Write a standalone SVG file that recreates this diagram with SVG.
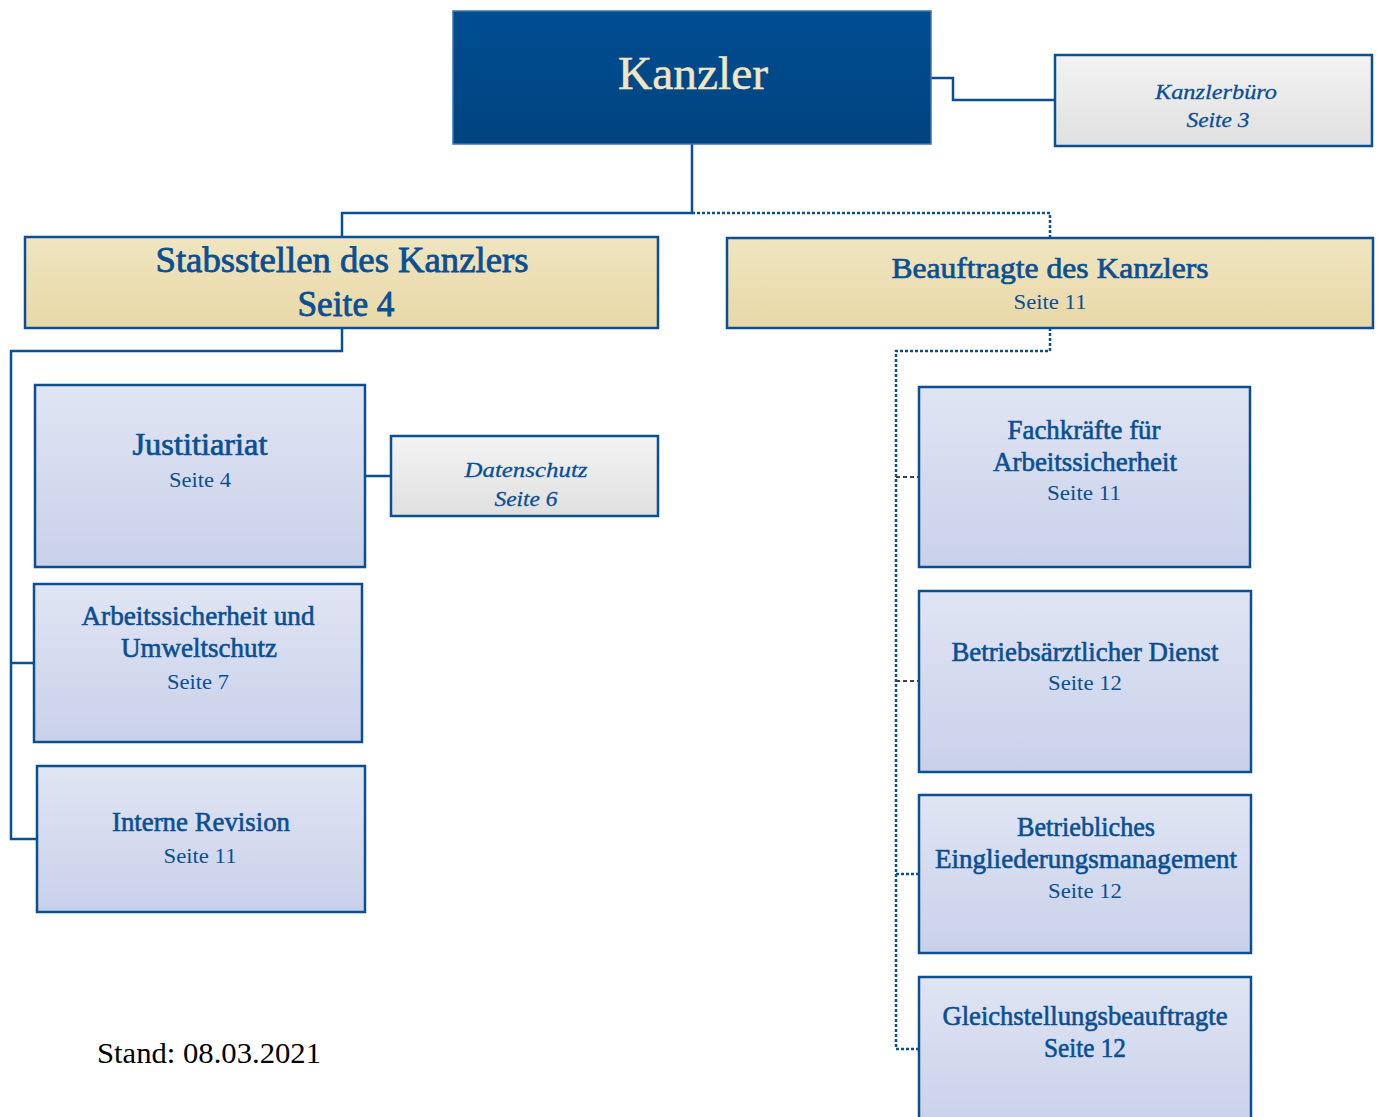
<svg xmlns="http://www.w3.org/2000/svg" width="1378" height="1117" viewBox="0 0 1378 1117" font-family="'Liberation Serif', 'Times New Roman', serif">
<defs>
<linearGradient id="gBlue" x1="0" y1="0" x2="0" y2="1"><stop offset="0" stop-color="#004d92"/><stop offset="1" stop-color="#00447f"/></linearGradient>
<linearGradient id="gGold" x1="0" y1="0" x2="0" y2="1"><stop offset="0" stop-color="#f0e5c0"/><stop offset="1" stop-color="#e8d8a7"/></linearGradient>
<linearGradient id="gGrey" x1="0" y1="0" x2="0" y2="1"><stop offset="0" stop-color="#f3f3f3"/><stop offset="1" stop-color="#e0e0e0"/></linearGradient>
<linearGradient id="gLav" x1="0" y1="0" x2="0" y2="1"><stop offset="0" stop-color="#e0e5f3"/><stop offset="1" stop-color="#c9d1ea"/></linearGradient>
</defs>
<style>
.box{stroke:#0a4f93;stroke-width:2.5}
.lav{fill:url(#gLav)}
.gold{fill:url(#gGold)}
.grey{fill:url(#gGrey)}
text{font-family:'Liberation Serif','Times New Roman',serif;text-anchor:middle;fill:#0a4f93}
.t{font-size:27px;stroke:#0a4f93;stroke-width:0.6}
.s{font-size:21px}
.i{font-style:italic;font-size:22px;stroke:#0a4f93;stroke-width:0.3}
.solid{fill:none;stroke:#0a4f93;stroke-width:2.5}
.dot{fill:none;stroke:#0a4f93;stroke-width:2.5;stroke-dasharray:3 2}
.dash{fill:none;stroke:#404040;stroke-width:2;stroke-dasharray:4 3}
</style>
<g id="connectors">
<path class="solid" d="M931,78 H953 V100 H1055"/>
<path class="solid" d="M692,144 V213 H342 V237"/>
<path class="dot" d="M692,213 H1050 V237"/>
<path class="solid" d="M342,328 V351 H11 V839 H37"/>
<path class="solid" d="M11,663 H34"/>
<path class="solid" d="M365,476 H391"/>
<path class="dot" d="M1050,328 V351 H896 V1049 H919"/>
<path class="dash" d="M896,477 H919"/>
<path class="dash" d="M896,681 H919"/>
<path class="dot" d="M896,874 H919"/>
</g>
<g id="kanzler">
<rect x="453" y="11" width="478" height="133" fill="url(#gBlue)" stroke="#3f73ad" stroke-width="1.5"/>
<text x="693" y="89" textLength="150" lengthAdjust="spacingAndGlyphs" style="font-size:46px;fill:#f2e6c2;stroke:#f2e6c2;stroke-width:0.5">Kanzler</text>
</g>
<g id="kanzlerbuero">
<rect class="box grey" x="1055" y="55" width="317" height="91"/>
<text class="i" x="1216" y="99" textLength="122" lengthAdjust="spacingAndGlyphs">Kanzlerbüro</text>
<text class="i" x="1218" y="127" textLength="63" lengthAdjust="spacingAndGlyphs">Seite 3</text>
</g>
<g id="stabsstellen">
<rect class="box gold" x="25" y="237" width="633" height="91"/>
<text x="342" y="272" textLength="373" lengthAdjust="spacingAndGlyphs" style="font-size:35px;stroke:#0a4f93;stroke-width:0.8">Stabsstellen des Kanzlers</text>
<text x="346" y="316" textLength="97" lengthAdjust="spacingAndGlyphs" style="font-size:35px;stroke:#0a4f93;stroke-width:0.8">Seite 4</text>
</g>
<g id="beauftragte">
<rect class="box gold" x="727" y="238" width="646" height="90"/>
<text x="1050" y="278" textLength="317" lengthAdjust="spacingAndGlyphs" style="font-size:30px;stroke:#0a4f93;stroke-width:0.7">Beauftragte des Kanzlers</text>
<text class="s" x="1050" y="309" textLength="73" lengthAdjust="spacingAndGlyphs">Seite 11</text>
</g>
<g id="justitiariat">
<rect class="box lav" x="35" y="385" width="330" height="182"/>
<text x="200" y="455" textLength="135" lengthAdjust="spacingAndGlyphs" style="font-size:31px;stroke:#0a4f93;stroke-width:0.7">Justitiariat</text>
<text class="s" x="200" y="487" textLength="62" lengthAdjust="spacingAndGlyphs">Seite 4</text>
</g>
<g id="datenschutz">
<rect class="box grey" x="391" y="436" width="267" height="80"/>
<text class="i" x="526" y="477" textLength="123" lengthAdjust="spacingAndGlyphs">Datenschutz</text>
<text class="i" x="526" y="506" textLength="63" lengthAdjust="spacingAndGlyphs">Seite 6</text>
</g>
<g id="arbeitssicherheit">
<rect class="box lav" x="34" y="584" width="328" height="158"/>
<text class="t" x="198" y="625" textLength="233" lengthAdjust="spacingAndGlyphs">Arbeitssicherheit und</text>
<text class="t" x="199" y="657" textLength="156" lengthAdjust="spacingAndGlyphs">Umweltschutz</text>
<text class="s" x="198" y="689" textLength="62" lengthAdjust="spacingAndGlyphs">Seite 7</text>
</g>
<g id="revision">
<rect class="box lav" x="37" y="766" width="328" height="146"/>
<text class="t" x="201" y="831" textLength="178" lengthAdjust="spacingAndGlyphs">Interne Revision</text>
<text class="s" x="200" y="863" textLength="73" lengthAdjust="spacingAndGlyphs">Seite 11</text>
</g>
<g id="fachkraefte">
<rect class="box lav" x="919" y="387" width="331" height="180"/>
<text class="t" x="1084" y="439" textLength="153" lengthAdjust="spacingAndGlyphs">Fachkräfte für</text>
<text class="t" x="1085" y="471" textLength="184" lengthAdjust="spacingAndGlyphs">Arbeitssicherheit</text>
<text class="s" x="1084" y="500" textLength="74" lengthAdjust="spacingAndGlyphs">Seite 11</text>
</g>
<g id="betriebsarzt">
<rect class="box lav" x="919" y="591" width="332" height="181"/>
<text class="t" x="1085" y="661" textLength="267" lengthAdjust="spacingAndGlyphs">Betriebsärztlicher Dienst</text>
<text class="s" x="1085" y="690" textLength="74" lengthAdjust="spacingAndGlyphs">Seite 12</text>
</g>
<g id="bem">
<rect class="box lav" x="919" y="795" width="332" height="158"/>
<text class="t" x="1086" y="836" textLength="138" lengthAdjust="spacingAndGlyphs">Betriebliches</text>
<text class="t" x="1086" y="868" textLength="302" lengthAdjust="spacingAndGlyphs">Eingliederungsmanagement</text>
<text class="s" x="1085" y="898" textLength="74" lengthAdjust="spacingAndGlyphs">Seite 12</text>
</g>
<g id="gleichstellung">
<rect class="box lav" x="919" y="977" width="332" height="150"/>
<text class="t" x="1085" y="1025" textLength="285" lengthAdjust="spacingAndGlyphs">Gleichstellungsbeauftragte</text>
<text class="t" x="1085" y="1057" textLength="82" lengthAdjust="spacingAndGlyphs">Seite 12</text>
</g>
<text x="97" y="1063" textLength="224" lengthAdjust="spacingAndGlyphs" style="font-size:29px;fill:#000;text-anchor:start">Stand: 08.03.2021</text>
</svg>
